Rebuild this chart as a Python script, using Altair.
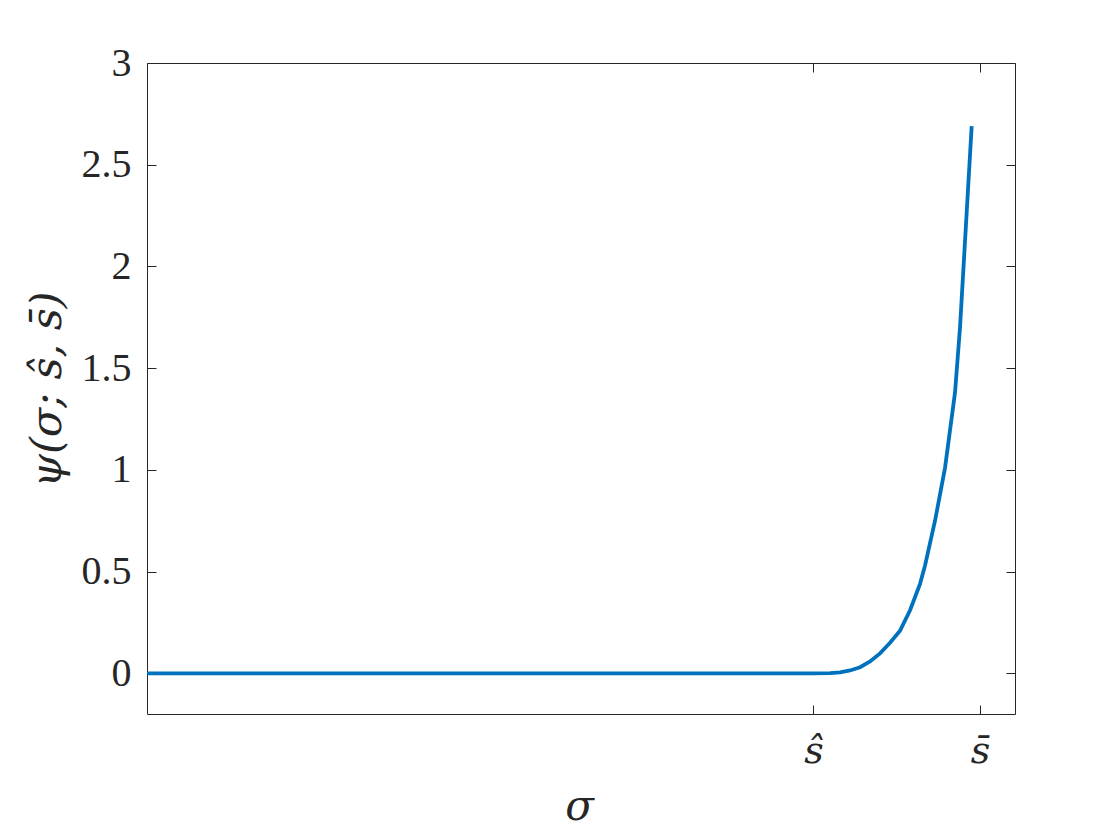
import altair as alt
import pandas as pd

# Curve values
sigma = [0.0, 0.2, 0.4, 0.6, 0.8, 0.82, 0.832, 0.844, 0.856, 0.868, 0.88, 0.892,
         0.904, 0.916, 0.928, 0.934, 0.946, 0.958, 0.970, 0.976, 0.99]
psi = [0.0, 0.0, 0.0, 0.0, 0.0, 0.001, 0.005, 0.014, 0.03, 0.058, 0.098, 0.15,
       0.21, 0.31, 0.44, 0.53, 0.75, 1.01, 1.38, 1.70, 2.69]

y_ticks = [0, 0.5, 1, 1.5, 2, 2.5, 3]
x_ticks = [0.8, 1.0]
x_tick_labels = ["ŝ", "s\u0304"]
x_domain = [0, 1.042]
y_domain = [-0.2, 3]

df = pd.DataFrame({"sigma": sigma, "psi": psi})

INK = "#262626"
SERIF = "Liberation Serif"
MATH = "DejaVu Serif"

x_label_expr = (
    f"datum.value == {x_ticks[0]} ? '{x_tick_labels[0]}' : '{x_tick_labels[1]}'"
)

xs = alt.Scale(domain=x_domain, nice=False, zero=False)
ys = alt.Scale(domain=y_domain, nice=False, zero=False)

common = dict(tickSize=9, tickColor=INK, tickWidth=1, domain=False, grid=False,
              offset=-9)

line = alt.Chart(df).mark_line(color="#0072BD", strokeWidth=3.8, clip=True).encode(
    x=alt.X("sigma:Q", scale=xs,
            axis=alt.Axis(orient="bottom", values=x_ticks, labelExpr=x_label_expr,
                          labelFont=MATH, labelFontSize=38, labelColor=INK,
                          labelFontStyle="italic",
                          labelPadding=48, labelBaseline="alphabetic",
                          title="σ", titleFont=MATH, titleFontSize=42,
                          titleFontStyle="italic", titleFontWeight="normal",
                          titleColor=INK, titleX=432, titleY=101,
                          titleBaseline="middle", titleAlign="center", **common)),
    y=alt.Y("psi:Q", scale=ys,
            axis=alt.Axis(orient="left", values=y_ticks,
                          labelExpr="toString(datum.value)",
                          labelFont=SERIF, labelFontSize=40, labelColor=INK,
                          labelPadding=16,
                          title="ψ(σ; ŝ, s\u0304)", titleFont=MATH, titleFontSize=43,
                          titleFontStyle="italic", titleFontWeight="normal",
                          titleColor=INK, titleX=-109, titleY=326,
                          titleAngle=270, titleBaseline="middle", titleAlign="center",
                          **common)),
)

mirror = alt.Chart(df).mark_line(strokeOpacity=0).encode(
    x=alt.X("sigma:Q", scale=xs,
            axis=alt.Axis(orient="top", values=x_ticks, labels=False, title=None,
                          **common)),
    y=alt.Y("psi:Q", scale=ys,
            axis=alt.Axis(orient="right", values=y_ticks, labels=False, title=None,
                          **common)),
)

chart = alt.layer(line, mirror).resolve_scale(
    x="independent", y="independent"
).properties(
    width=868, height=651,
    autosize=alt.AutoSizeParams(type="none"),
    padding={"left": 139, "top": 55, "right": 97, "bottom": 118},
).configure_view(stroke=INK, strokeWidth=1)

chart.save("out.html", embed_options={"renderer": "svg", "actions": False})
